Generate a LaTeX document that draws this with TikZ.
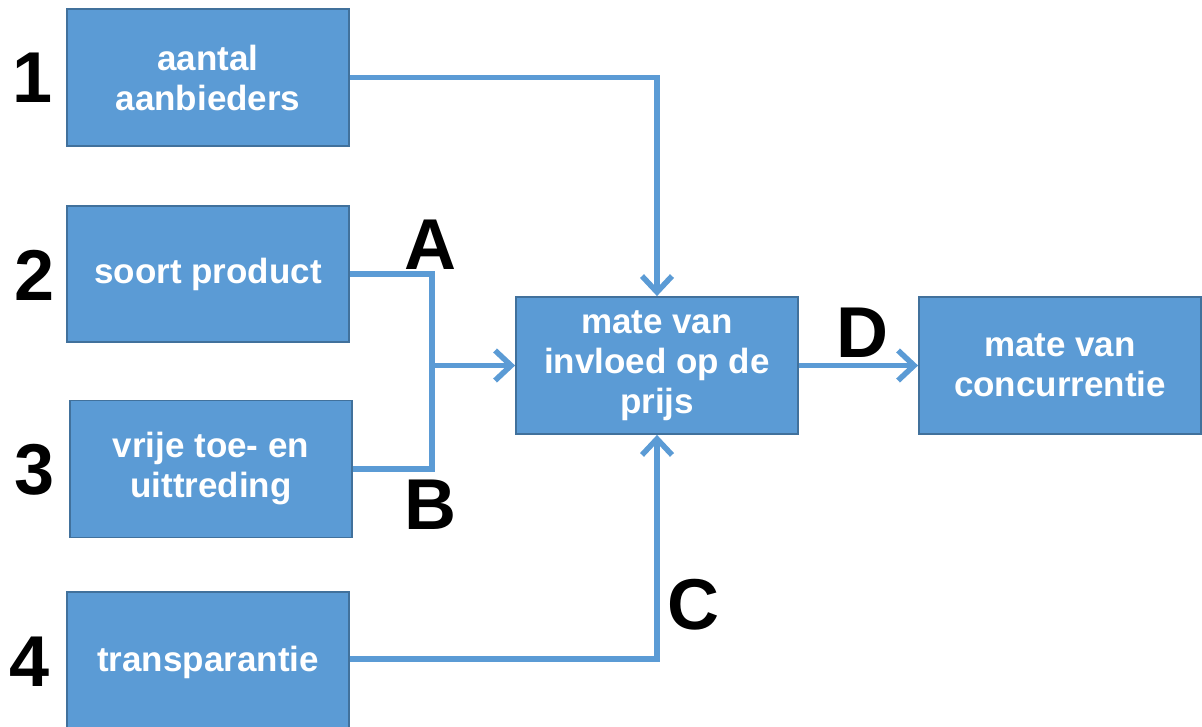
\documentclass[tikz,border=0pt]{standalone}
\usepackage{fontspec}
\setmainfont{Liberation Sans}
\usetikzlibrary{arrows.meta}
\definecolor{boxfill}{HTML}{5B9BD5}
\definecolor{boxline}{HTML}{41719C}
\definecolor{conncol}{HTML}{5B9BD5}
\tikzset{
  blk/.style={draw=boxline, line width=1.8pt, fill=boxfill, text=white,
    minimum width=282pt, minimum height=137pt, inner sep=0pt, align=center,
    font=\fontsize{35}{40}\selectfont\bfseries},
  bigtag/.style={text=black, inner sep=0pt, font=\fontsize{72}{72}\selectfont\bfseries},
  wire/.style={draw=conncol, line width=5.5pt},
  conn/.style={wire, -{Straight Barb[length=16pt,width=30pt,line width=5.5pt]}}
}
\begin{document}
\begin{tikzpicture}[x=1pt,y=-1pt]
\useasboundingbox (0,0) rectangle (1202,727);
\node[blk] (b1) at (208,77.5) {aantal\\aanbieders};
\node[blk, minimum height=136pt] (b2) at (208,274) {soort product};
\node[blk] (b3) at (211,469) {vrije toe- en\\uittreding};
\node[blk, minimum height=140pt] (b4) at (208,662) {transparantie};
\node[blk] (c) at (657,365.5) {mate van\\invloed op de\\prijs};
\node[blk] (r) at (1060,365.5) {mate van\\concurrentie};
\node[bigtag] (n1) at (33,78) {1};
\node[bigtag] (n2) at (35,275) {2};
\node[bigtag] (n3) at (35,470) {3};
\node[bigtag] (n4) at (30,662) {4};
\node[bigtag] (la) at (430,245) {A};
\node[bigtag] (lb) at (430,505) {B};
\node[bigtag] (lc) at (693,605) {C};
\node[bigtag] (ld) at (862,333) {D};
\coordinate (j) at (432,365.5);
\draw[conn] (b1.east) -| (c.north);
\draw[wire] (b2.east) -| (j);
\draw[wire] (b3.east) -| (j);
\draw[conn] (j) -- (c.west);
\draw[conn] (b4.east |- 0,659) -| (c.south);
\draw[conn] (c) -- (r);
\end{tikzpicture}
\end{document}
